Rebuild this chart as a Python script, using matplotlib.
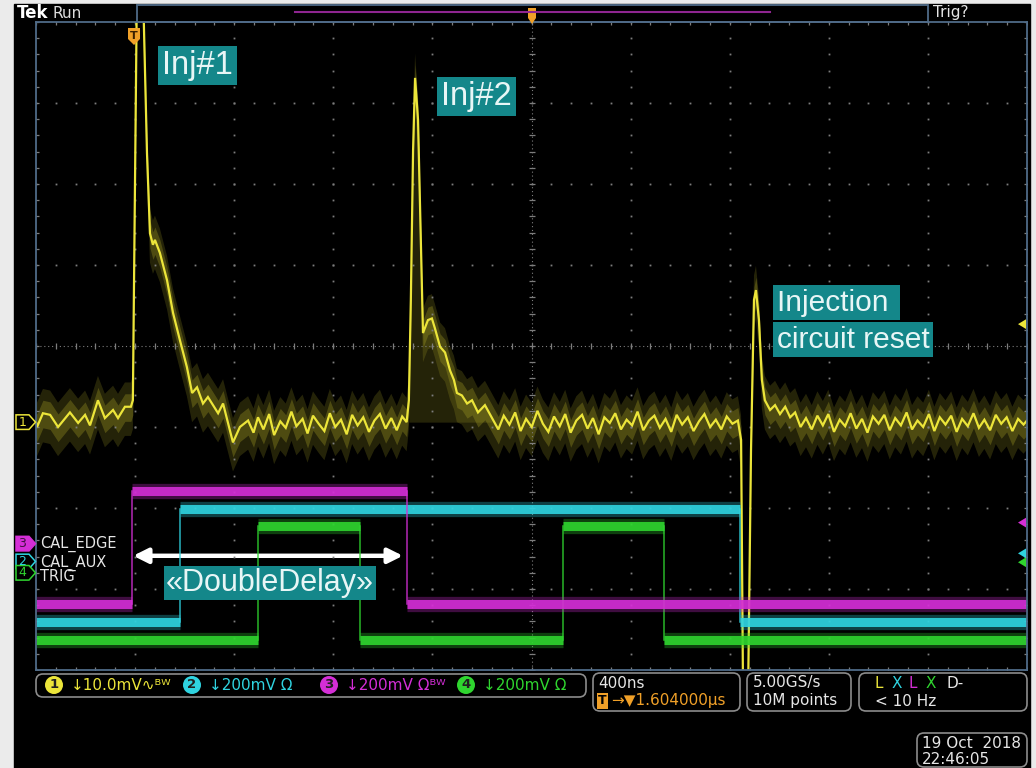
import numpy as np
import matplotlib.pyplot as plt
from matplotlib.patches import Rectangle, FancyBboxPatch, Polygon, Circle, FancyArrowPatch
from matplotlib.transforms import blended_transform_factory

# horizontal: 400 ns/div, delay 1.604 us -> screen spans -396 .. 3604 ns around trigger
ns_per_div = 400
delay_ns = 1604
t_left = delay_ns - 5 * ns_per_div
t_right = delay_ns + 5 * ns_per_div

# ch1 (yellow), 10 mV/div, position in div
ch1_scale = 10.0
ch1_pos = -0.94
# time (ns) / mV pairs, segment by segment
pre_t = [-396, -392, -368, -339, -307, -259, -226, -198, -178, -146, -118, -85, -65, -37, -13]
pre_mv = [0.0, -0.6, 1.1, 0.9, -0.6, 1.2, -0.1, 0.9, -0.4, 2.7, 0.5, 1.5, 0.5, 1.9, 1.9]
inj1_t = [-5, 12, 36, 52, 64, 76, 84, 104, 133, 157, 185, 213, 234, 254, 278, 298, 339, 359, 399, 427, 460]
inj1_mv = [2.7, 55.8, 53.4, 33.2, 23.3, 21.9, 22.5, 20.9, 17.5, 13.5, 10.1, 6.8, 3.6, 4.3, 2.3, 3.1,
           1.1, 2.3, -2.5, -0.6, 0.2]
base1_t = [482, 500, 522, 545, 565, 590, 612, 635, 655, 680, 700, 722, 745, 768, 790, 812, 835, 858,
           880, 902, 925, 948, 970, 992, 1015, 1038, 1060, 1082, 1100]
base1_mv = [-1.3, 0.6, -0.9, 1.0, -1.6, 0.1, -0.7, 1.3, -0.5, 0.4, -1.4, 0.8, -0.2, -1.1, 1.1, -0.6,
            0.3, -1.5, 0.9, -0.4, 0.6, -1.2, 0.2, 1.0, -0.8, 0.5, -1.0, 0.7, 0.0]
inj2_t = [1109, 1117, 1126, 1134, 1146, 1158, 1166, 1186, 1202, 1214, 1235, 1255, 1275, 1291, 1303,
          1323, 1344, 1364, 1388, 1416, 1445]
inj2_mv = [2.7, 15.1, 33.6, 42.5, 37.3, 21.2, 11.0, 12.6, 12.8, 11.6, 9.3, 8.6, 6.4, 5.2, 3.6, 3.3,
           2.3, 2.7, 1.2, 2.1, 0.5]
base2_t = [1470, 1492, 1515, 1538, 1560, 1582, 1605, 1628, 1650, 1672, 1695, 1718, 1740, 1762, 1785,
           1808, 1830, 1852, 1875, 1898, 1920, 1942, 1965, 1988, 2010, 2032, 2055, 2078, 2100, 2122,
           2145, 2168, 2190, 2212, 2235, 2258, 2280, 2302, 2325, 2348, 2370, 2392, 2415, 2437]
base2_mv = [-0.9, 0.8, -0.3, 1.2, -1.1, 0.4, -0.6, 1.4, -0.2, -1.2, 0.7, -0.5, 1.0, -1.3, 0.2, 0.9,
            -0.8, 0.5, -1.5, 0.6, -0.1, 1.1, -0.9, 0.3, -0.4, 1.3, -1.0, 0.2, 0.8, -0.7, 0.4, -1.2,
            0.9, -0.3, 0.6, -1.1, 0.1, 1.0, -0.6, 0.3, -0.9, 0.7, -0.2, 0.2]
reset_t = [2450, 2458, 2478, 2490, 2502, 2510, 2522, 2534, 2546]
reset_mv = [-2.2, -34.0, -34.0, -3.5, 15.1, 16.3, 12.6, 5.2, 2.7]
base3_t = [2567, 2587, 2607, 2628, 2648, 2668, 2690, 2712, 2735, 2758, 2780, 2802, 2825, 2848, 2870,
           2892, 2915, 2938, 2960, 2982, 3005, 3028, 3050, 3072, 3095, 3118, 3140, 3162, 3185, 3208,
           3230, 3252, 3275, 3298, 3320, 3342, 3365, 3388, 3410, 3432, 3455, 3478, 3500, 3522, 3545,
           3568, 3590, 3604]
base3_mv = [1.5, 2.1, 1.0, 1.9, 0.6, 1.2, -0.6, 0.5, -0.9, 0.8, -0.4, 1.0, -1.2, 0.3, -0.5, 1.1,
            -0.8, 0.4, -1.3, 0.7, -0.2, 0.9, -1.0, 0.5, -0.4, 1.2, -0.9, 0.2, -0.6, 1.0, -1.1, 0.6,
            -0.3, 0.8, -1.2, 0.4, -0.5, 1.1, -0.7, 0.3, -1.0, 0.9, -0.2, 0.6, -1.1, 0.4, -0.3, 0.2]

# digital channels, 200 mV/div: edge times (ns) and levels (mV) between them
cal_edge_edges = [-8, 1101]
cal_edge_mv = [-150, 130, -150]
cal_edge_pos = -2.44
cal_aux_edges = [185, 2445]
cal_aux_mv = [-150, 130, -150]
cal_aux_pos = -2.66
trig_edges = [500, 912, 1731, 2139]
trig_mv = [-165, 115, -165, 115, -165]
trig_pos = -2.80
dig_scale = 200.0

YEL = '#ece53a'
HAZE = '#a8a226'
CYA = '#2fd3e0'
MAG = '#d42ed6'
GRN = '#2fd52f'
TEAL = '#14878a'
GRID = '#7d7d7d'
FRAME = '#4f6b88'

fig = plt.figure(figsize=(10.36, 7.68), dpi=100, facecolor='#ebebeb')
inch = fig.dpi_scale_trans


def P(x, y):
    return x / 100, (768 - y) / 100


fig.patches.append(Rectangle((0.14, 0), 10.16, 7.64, transform=inch, color='black', zorder=-10))

ax = fig.add_axes([36 / 1036, 98 / 768, 991 / 1036, 648 / 768])
ax.set_facecolor('black')
ax.set_xlim(t_left, t_right)
ax.set_ylim(-4, 4)
ax.set_xticks([])
ax.set_yticks([])
for s in ax.spines.values():
    s.set_color(FRAME)
    s.set_linewidth(1.3)

# graticule
minor_x = np.arange(t_left, t_right + 1, ns_per_div / 5)
minor_y = np.arange(-4, 4.001, 0.2)
for k in range(1, 10):
    if k == 5:
        continue
    xv = t_left + k * ns_per_div
    ax.plot(np.full_like(minor_y, xv), minor_y, ls='none', marker='s', ms=1.3, mec='none', color=GRID)
for yv in [-3, -2, -1, 1, 2, 3]:
    ax.plot(minor_x, np.full_like(minor_x, yv), ls='none', marker='s', ms=1.3, mec='none', color=GRID)
ax.axvline(delay_ns, color=GRID, lw=0.8, ls=(0, (1, 2.5)))
ax.axhline(0, color=GRID, lw=0.8, ls=(0, (1, 2.5)))
ax.plot(np.full_like(minor_y, delay_ns), minor_y, ls='none', marker='_', ms=5, mew=0.9, color=GRID)
ax.plot(minor_x, np.zeros_like(minor_x), ls='none', marker='|', ms=5, mew=0.9, color=GRID)
for yv in [-4, 4]:
    ax.plot(minor_x, np.full_like(minor_x, yv), ls='none', marker='|', ms=5, mew=0.9, color=GRID)
for xv in [t_left, t_right]:
    ax.plot(np.full_like(minor_y, xv), minor_y, ls='none', marker='_', ms=5, mew=0.9, color=GRID)

# ch1 trace
ch1_t = np.array(pre_t + inj1_t + base1_t + inj2_t + base2_t + reset_t + base3_t, dtype=float)
ch1_mv = np.array(pre_mv + inj1_mv + base1_mv + inj2_mv + base2_mv + reset_mv + base3_mv)
y1 = ch1_mv / ch1_scale + ch1_pos
ax.fill_between(ch1_t, y1 - 0.36, y1 + 0.30, color=HAZE, alpha=0.22, lw=0)
ax.fill_between(ch1_t, y1 - 0.18, y1 + 0.16, color=HAZE, alpha=0.32, lw=0)
ax.fill_between(inj2_t, ch1_pos, np.array(inj2_mv) / ch1_scale + ch1_pos, color=HAZE, alpha=0.22, lw=0)
ax.plot(ch1_t, y1, color=YEL, lw=1.6, solid_joinstyle='miter')

# digital traces
for edges, levels, pos, col in [(cal_aux_edges, cal_aux_mv, cal_aux_pos, CYA),
                                (trig_edges, trig_mv, trig_pos, GRN),
                                (cal_edge_edges, cal_edge_mv, cal_edge_pos, MAG)]:
    bounds = [t_left] + edges + [t_right]
    ys = np.array(levels) / dig_scale + pos
    for i, yv in enumerate(ys):
        ax.plot([bounds[i], bounds[i + 1]], [yv, yv], color=col, lw=11, alpha=0.3, solid_capstyle='butt')
        ax.plot([bounds[i], bounds[i + 1]], [yv, yv], color=col, lw=6.5, alpha=0.9, solid_capstyle='butt')
    for i, e in enumerate(edges):
        ax.plot([e, e], [ys[i], ys[i + 1]], color=col, lw=1.1, alpha=0.85)

# annotations
box = dict(boxstyle='square,pad=0.12', fc=TEAL, ec='none')
ann = dict(color='#e8f6f6', family='Liberation Sans', va='center', ha='left', bbox=box)
ax.text(113, 3.46, 'Inj#1', fontsize=23.5, **ann)
ax.text(1239, 3.08, 'Inj#2', fontsize=23.5, **ann)
ax.text(2595, 0.537, 'Injection ', fontsize=21.5, **ann)
ax.text(2595, 0.08, 'circuit reset', fontsize=21.5, **ann)
ax.text(129, -2.93, '«DoubleDelay»', fontsize=22, color='#e8f6f6', family='Liberation Sans',
        va='center', ha='left', bbox=dict(boxstyle='square,pad=0.06', fc=TEAL, ec='none'))
ax.add_patch(FancyArrowPatch((-4, -2.59), (1085, -2.59), arrowstyle='<|-|>', mutation_scale=22,
                             color='white', lw=3.2, shrinkA=0, shrinkB=0))

# channel tags on the left
tag = blended_transform_factory(inch, ax.transData)
for pos, col, num, filled in [(ch1_pos, YEL, '1', False), (cal_edge_pos, MAG, '3', True),
                              (cal_aux_pos, CYA, '2', False), (trig_pos, GRN, '4', False)]:
    h = 0.09
    ax.add_patch(Polygon([(0.16, pos - h), (0.29, pos - h), (0.355, pos), (0.29, pos + h), (0.16, pos + h)],
                         closed=True, transform=tag, clip_on=False, fc=col if filled else 'black',
                         ec=col, lw=1.1, zorder=5))
    ax.text(0.225, pos, num, transform=tag, color='#401040' if filled else col, fontsize=9,
            ha='center', va='center', clip_on=False, zorder=6)
for pos, name in [(cal_edge_pos, 'CAL_EDGE'), (cal_aux_pos - 0.02, 'CAL_AUX'), (trig_pos - 0.05, 'TRIG')]:
    ax.text(0.40, pos, name, transform=tag, color='#e6e6e6', fontsize=10.5, ha='left', va='center',
            clip_on=False, zorder=6)

# right side level markers
for yv, col in [(0.27, YEL), (-2.18, MAG), (-2.56, CYA), (-2.67, GRN)]:
    ax.add_patch(Polygon([(10.18, yv), (10.26, yv - 0.06), (10.26, yv + 0.06)], closed=True,
                         transform=tag, clip_on=False, fc=col, ec='none', zorder=6))

# trigger marker at the top-left
ax.add_patch(Polygon([(1.28, 7.40), (1.40, 7.40), (1.40, 7.29), (1.34, 7.23), (1.28, 7.29)],
                     closed=True, transform=inch, fc='#f0a028', ec='none', zorder=7, clip_on=False))
fig.text(*P(134, 36), 'T', transform=inch, color='#3a2000', fontsize=8, fontweight='bold',
         ha='center', va='center', zorder=8)

# top status bar
fig.text(*P(17, 13), 'Tek', transform=inch, color='white', fontsize=12, fontweight='bold', va='center')
fig.text(*P(52, 13), 'Run', transform=inch, color='#dcdcdc', fontsize=11, va='center')
fig.patches.append(Rectangle(P(137, 22), 7.91, 0.17, transform=inch, fill=False, ec=FRAME, lw=1.3))
fig.add_artist(plt.Line2D([2.95, 7.70], [(768 - 12) / 100] * 2, transform=inch, color='#8e2590', lw=1.5))
fig.patches.append(Polygon([P(528, 8), P(536, 8), P(536, 18), P(532, 24), P(528, 18)], closed=True,
                           transform=inch, fc='#f0a028', ec='none'))
fig.text(*P(933, 13), 'Trig?', transform=inch, color='#e6e6e6', fontsize=11, va='center')


def rbox(x0, y0, x1, y1):
    fig.patches.append(FancyBboxPatch(P(x0, y1), (x1 - x0) / 100, (y1 - y0) / 100, transform=inch,
                                      boxstyle='round,pad=0,rounding_size=0.07', fc='black',
                                      ec='#8c8c8c', lw=1.2))


def txt(x, y, s, col='#e6e6e6', size=11, **kw):
    fig.text(*P(x, y), s, transform=inch, color=col, fontsize=size, va='center', **kw)


# channel readouts
rbox(36, 674, 586, 697)
for cx, col, num, label in [(54, YEL, '1', '↓10.0mV∿ᴮᵂ'), (192, CYA, '2', '↓200mV Ω'),
                            (329, MAG, '3', '↓200mV Ωᴮᵂ'), (466, GRN, '4', '↓200mV Ω')]:
    fig.patches.append(Circle(P(cx, 685), 0.09, transform=inch, fc=col, ec='none'))
    txt(cx, 685, num, col='#202020', size=9.5, ha='center', fontweight='bold')
    txt(cx + 17, 685, label, col=col)

rbox(593, 673, 740, 711)
txt(598, 683, '400ns')
txt(598, 701, 'T', col='black', size=9, fontweight='bold',
    bbox=dict(boxstyle='square,pad=0.1', fc='#f0a028', ec='none'))
txt(611, 701, '→▼1.604000µs', col='#f0a028')
rbox(747, 673, 851, 711)
txt(753, 683, '5.00GS/s')
txt(753, 701, '10M points')
rbox(859, 673, 1027, 711)
for x, s, col in [(875, 'L', YEL), (892, 'X', CYA), (909, 'L', MAG), (926, 'X', GRN), (946, 'D-', '#e6e6e6')]:
    txt(x, 683, s, col=col)
txt(875, 701, '< 10 Hz')
rbox(917, 733, 1027, 767)
txt(922, 743, '19 Oct  2018')
txt(922, 759, '22:46:05')

fig.savefig('out.png', dpi=100, facecolor=fig.get_facecolor())
